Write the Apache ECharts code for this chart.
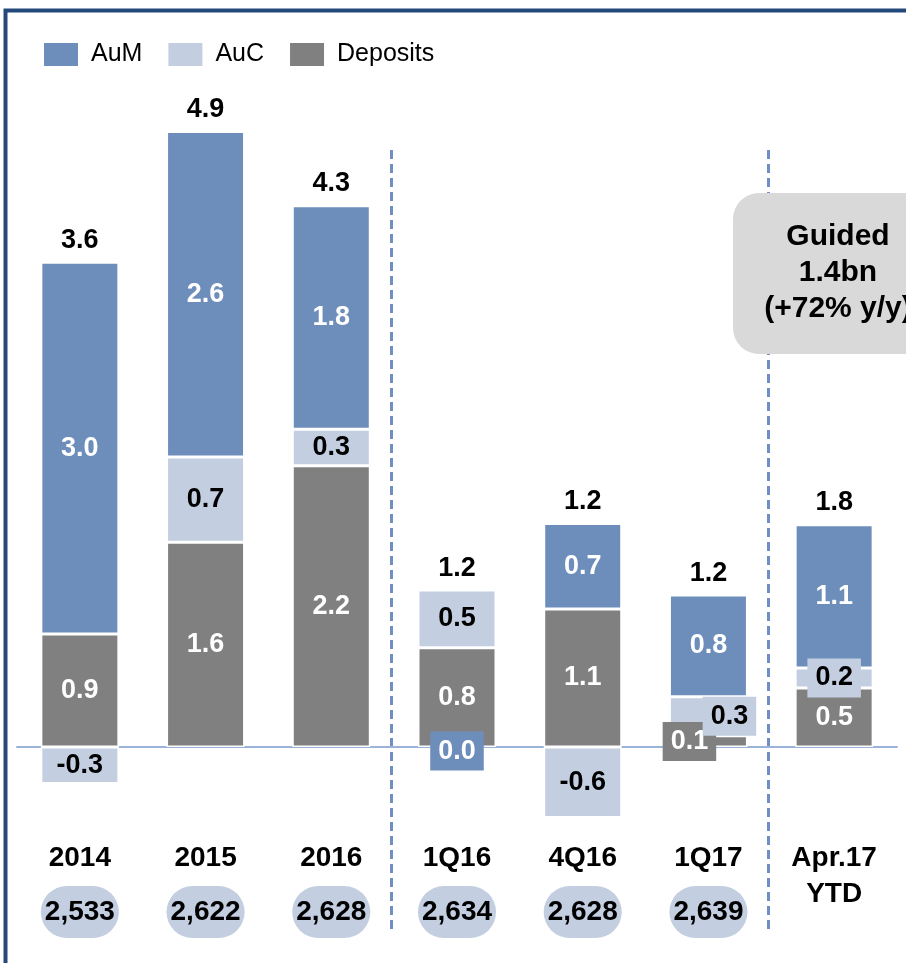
<!DOCTYPE html>
<html style="height: 100%">
<head>
    <meta charset="utf-8">
</head>
<body style="height: 100%; margin: 0">
    <div id="container" style="width: 906px; height: 963px"></div>
    <script type="text/javascript" src="https://cdn.jsdelivr.net/npm/echarts@6/dist/echarts.min.js"></script>
    <script type="text/javascript">
        // categories and the client counts under each bar
        var categories = ['2014', '2015', '2016', '1Q16', '4Q16', '1Q17', 'Apr.17\nYTD'];
        var clients = ['2,533', '2,622', '2,628', '2,634', '2,628', '2,639', ''];

        // net new money, bn
        var deposits = [0.90, 1.63, 2.24, 0.79, 1.10, 0.09, 0.47];
        var auc = [-0.29, 0.68, 0.29, 0.46, -0.56, 0.31, 0.16];
        var aum = [2.96, 2.59, 1.78, 0.00, 0.68, 0.81, 1.14];
        var totals = [3.6, 4.9, 4.3, 1.2, 1.2, 1.2, 1.8];

        var BLUE = '#6d8dbb';
        var LIGHT = '#c3cee1';
        var GREY = '#808080';
        var FONT = 'Liberation Sans, Arial, sans-serif';

        var dom = document.getElementById('container');
        var myChart = echarts.init(dom);

        function fmt(p) {
            return (typeof p.value === 'number' ? p.value : p.value[1]).toFixed(1);
        }

        // top of positive stack, where total label sits
        var posTop = categories.map(function (c, i) {
            return [i, Math.max(deposits[i], 0) + Math.max(auc[i], 0) + Math.max(aum[i], 0)];
        });

        var zeroCallouts = [];
        aum.forEach(function (v, i) {
            if (v === 0) zeroCallouts.push([i, v]);
        });

        var valueLabel = {
            show: true,
            position: 'inside',
            fontSize: 27,
            fontWeight: 'bold',
            fontFamily: FONT,
            color: '#fff'
        };

        var option = {
            animation: false,
            textStyle: { fontFamily: FONT },
            legend: {
                data: ['AuM', 'AuC', 'Deposits'],
                left: 37,
                top: 36,
                icon: 'rect',
                itemWidth: 36,
                itemHeight: 25,
                itemGap: 24,
                textStyle: { fontSize: 25, color: '#000', fontFamily: FONT, padding: [0, 0, 0, 7] }
            },
            grid: [
                { left: 17, right: 9, top: 119, bottom: 128 },
                { left: 14, right: 12, top: 150, bottom: 33 }
            ],
            xAxis: [
                {
                    gridIndex: 0,
                    type: 'category',
                    data: categories,
                    axisLine: { onZero: true, lineStyle: { color: '#9bb3d8', width: 2 } },
                    axisTick: { show: false },
                    axisLabel: { show: false }
                },
                {
                    gridIndex: 0,
                    type: 'category',
                    data: categories,
                    position: 'bottom',
                    axisLine: { show: false, onZero: false },
                    axisTick: { show: false },
                    axisLabel: {
                        interval: 0,
                        margin: 5,
                        fontSize: 28,
                        lineHeight: 36,
                        fontWeight: 'bold',
                        color: '#000'
                    }
                },
                {
                    gridIndex: 0,
                    type: 'category',
                    data: categories,
                    position: 'bottom',
                    offset: 55,
                    axisLine: { show: false, onZero: false },
                    axisTick: { show: false },
                    axisLabel: {
                        interval: 0,
                        margin: 8,
                        formatter: function (v, i) {
                            return clients[i] ? '{p|' + clients[i] + '}' : '';
                        },
                        rich: {
                            p: {
                                fontSize: 28,
                                lineHeight: 28,
                                fontWeight: 'bold',
                                color: '#000',
                                backgroundColor: LIGHT,
                                borderRadius: 40,
                                padding: [12, 4]
                            }
                        }
                    }
                },
                {
                    gridIndex: 1,
                    type: 'category',
                    data: categories,
                    axisLine: { show: false },
                    axisTick: { show: false },
                    axisLabel: { show: false },
                    splitLine: {
                        show: true,
                        showMaxLine: false,
                        interval: function (i) { return i === 3 || i === 6; },
                        lineStyle: { color: '#6f8fc2', width: 3, type: [9, 5] }
                    }
                }
            ],
            yAxis: [
                { gridIndex: 0, type: 'value', min: -0.7, max: 5, show: false },
                { gridIndex: 1, type: 'value', show: false }
            ],
            series: [
                {
                    name: 'Deposits',
                    type: 'bar',
                    stack: 'nnm',
                    barWidth: 78,
                    itemStyle: { color: GREY, borderColor: '#fff', borderWidth: 1.5 },
                    label: Object.assign({}, valueLabel, { formatter: fmt }),
                    data: deposits.map(function (v, i) {
                        if (i === 5) {
                            return { value: v, label: { offset: [-19, 0], backgroundColor: GREY, padding: [6, 8] } };
                        }
                        return v;
                    })
                },
                {
                    name: 'AuC',
                    type: 'bar',
                    stack: 'nnm',
                    barWidth: 78,
                    itemStyle: { color: LIGHT, borderColor: '#fff', borderWidth: 1.5 },
                    label: Object.assign({}, valueLabel, { color: '#000', formatter: fmt }),
                    data: auc.map(function (v, i) {
                        if (i === 5) {
                            return { value: v, label: { offset: [21, 0], backgroundColor: LIGHT, padding: [6, 8] } };
                        }
                        if (i === 6) {
                            return { value: v, label: { backgroundColor: LIGHT, padding: [6, 8] } };
                        }
                        return v;
                    })
                },
                {
                    name: 'AuM',
                    type: 'bar',
                    stack: 'nnm',
                    barWidth: 78,
                    itemStyle: { color: BLUE, borderColor: '#fff', borderWidth: 1.5 },
                    label: Object.assign({}, valueLabel, { formatter: fmt }),
                    data: aum.map(function (v) {
                        if (v === 0) return { value: v, label: { show: false } };
                        return v;
                    })
                },
                {
                    name: 'zero',
                    type: 'scatter',
                    silent: true,
                    symbolSize: 1,
                    itemStyle: { color: 'rgba(0,0,0,0)', opacity: 1 },
                    z: 5,
                    label: Object.assign({}, valueLabel, {
                        offset: [0, 4],
                        backgroundColor: BLUE,
                        padding: [6, 8],
                        formatter: fmt
                    }),
                    data: zeroCallouts
                },
                {
                    name: 'total',
                    type: 'scatter',
                    silent: true,
                    symbolSize: 1,
                    itemStyle: { color: 'rgba(0,0,0,0)', opacity: 1 },
                    label: {
                        show: true,
                        position: 'top',
                        distance: 8,
                        fontSize: 27,
                        fontWeight: 'bold',
                        fontFamily: FONT,
                        color: '#000',
                        formatter: function (p) { return totals[p.dataIndex].toFixed(1); }
                    },
                    data: posTop
                }
            ],
            graphic: [
                {
                    type: 'rect',
                    z: 100,
                    shape: { x: 5.5, y: 10.5, width: 960, height: 1000 },
                    style: { fill: 'none', stroke: '#24497c', lineWidth: 4 }
                },
                {
                    type: 'rect',
                    z: 90,
                    shape: { x: 733, y: 193, width: 210, height: 161, r: 26 },
                    style: { fill: '#d9d9d9' }
                },
                {
                    type: 'text',
                    z: 91,
                    x: 838,
                    y: 273,
                    style: {
                        text: 'Guided\n1.4bn\n(+72% y/y)',
                        font: 'bold 30px ' + FONT,
                        fill: '#000',
                        align: 'center',
                        verticalAlign: 'middle',
                        lineHeight: 36
                    }
                }
            ]
        };

        myChart.setOption(option);
    </script>
</body>
</html>
